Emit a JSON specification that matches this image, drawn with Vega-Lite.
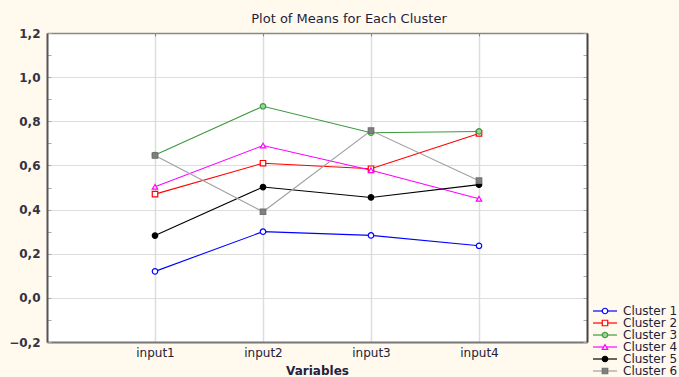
{
  "$schema": "https://vega.github.io/schema/vega-lite/v6.json",
  "width": 540,
  "height": 309,
  "autosize": {"type": "none"},
  "padding": {"left": 47, "top": 33, "right": 92, "bottom": 35},
  "background": "#fff9ee",
  "title": {"text": "Plot of Means for Each Cluster", "font": "DejaVu Sans", "fontSize": 13, "fontWeight": "normal", "color": "#1e1e3c", "anchor": "middle", "frame": "group", "offset": 1, "dx": 32},
  "config": {"view": {"stroke": null, "fill": "white"}, "font": "DejaVu Sans"},
  "data": {"values": [
    {"cluster": "Cluster 1", "variable": "input1", "value": 0.12},
    {"cluster": "Cluster 1", "variable": "input2", "value": 0.30},
    {"cluster": "Cluster 1", "variable": "input3", "value": 0.283},
    {"cluster": "Cluster 1", "variable": "input4", "value": 0.236},
    {"cluster": "Cluster 2", "variable": "input1", "value": 0.47},
    {"cluster": "Cluster 2", "variable": "input2", "value": 0.61},
    {"cluster": "Cluster 2", "variable": "input3", "value": 0.585},
    {"cluster": "Cluster 2", "variable": "input4", "value": 0.745},
    {"cluster": "Cluster 3", "variable": "input1", "value": 0.647},
    {"cluster": "Cluster 3", "variable": "input2", "value": 0.868},
    {"cluster": "Cluster 3", "variable": "input3", "value": 0.748},
    {"cluster": "Cluster 3", "variable": "input4", "value": 0.754},
    {"cluster": "Cluster 4", "variable": "input1", "value": 0.503},
    {"cluster": "Cluster 4", "variable": "input2", "value": 0.69},
    {"cluster": "Cluster 4", "variable": "input3", "value": 0.578},
    {"cluster": "Cluster 4", "variable": "input4", "value": 0.449},
    {"cluster": "Cluster 5", "variable": "input1", "value": 0.282},
    {"cluster": "Cluster 5", "variable": "input2", "value": 0.502},
    {"cluster": "Cluster 5", "variable": "input3", "value": 0.455},
    {"cluster": "Cluster 5", "variable": "input4", "value": 0.513},
    {"cluster": "Cluster 6", "variable": "input1", "value": 0.645},
    {"cluster": "Cluster 6", "variable": "input2", "value": 0.39},
    {"cluster": "Cluster 6", "variable": "input3", "value": 0.758},
    {"cluster": "Cluster 6", "variable": "input4", "value": 0.531}
  ]},
  "layer": [
    {
      "mark": {"type": "line", "strokeWidth": 1.1},
      "encoding": {
        "x": {"field": "variable", "type": "ordinal", "sort": null, "scale": {"type": "point", "padding": 1},
          "axis": {"orient": "bottom", "title": "Variables", "labelAngle": 0, "labelFont": "DejaVu Sans", "labelFontSize": 12, "labelColor": "#22223a", "labelPadding": 5, "ticks": false, "grid": true, "gridColor": "#dddddd", "gridWidth": 1.5, "domainColor": "#777777", "domainWidth": 2, "titleFont": "DejaVu Sans", "titleFontSize": 12, "titleFontWeight": "bold", "titleColor": "#22223a", "titlePadding": 7}},
        "y": {"field": "value", "type": "quantitative", "scale": {"domain": [-0.2, 1.2], "nice": false, "zero": false},
          "axis": {"orient": "left", "title": null, "values": [-0.2, -0.1, 0, 0.1, 0.2, 0.3, 0.4, 0.5, 0.6, 0.7, 0.8, 0.9, 1.0, 1.1, 1.2],
            "labelExpr": "abs(round(datum.value*10)) % 2 == 0 ? replace(format(datum.value, '.1f'), '.', ',') : ''",
            "labelFont": "DejaVu Sans", "labelFontSize": 12, "labelFontWeight": "bold", "labelColor": "#333344", "labelPadding": 11,
            "tickSize": -4, "tickColor": "#aaaaaa",
            "grid": true, "gridColor": "#dddddd", "gridWidth": 1.2,
            "gridOpacity": {"condition": {"test": "abs(round(datum.value*10)) % 2 == 0", "value": 1}, "value": 0},
            "domainColor": "#555555", "domainWidth": 2}},
        "color": {"field": "cluster", "type": "nominal",
          "scale": {"domain": ["Cluster 1", "Cluster 2", "Cluster 3", "Cluster 4", "Cluster 5", "Cluster 6"], "range": ["#0000ff", "#ff0000", "#3c9a3c", "#ff00ff", "#000000", "#a0a0a0"]},
          "legend": {"orient": "none", "legendX": 552, "legendY": 272, "title": null, "symbolType": "M-4,0H4", "symbolSize": 36, "symbolStrokeWidth": 1.2, "labelFont": "DejaVu Sans", "labelFontSize": 12, "labelColor": "#22223a", "labelOffset": 12, "rowPadding": 0, "labelLimit": 300}}
      }
    },
    {
      "mark": {"type": "point", "filled": true, "size": 30, "strokeWidth": 1.2, "opacity": 1},
      "encoding": {
        "x": {"field": "variable", "type": "ordinal", "sort": null, "scale": {"type": "point", "padding": 1},
          "axis": {"orient": "top", "title": null, "labels": false, "grid": false, "tickSize": -3, "tickColor": "#888888", "domainColor": "#888888", "domainWidth": 1.5}},
        "y": {"field": "value", "type": "quantitative", "scale": {"domain": [-0.2, 1.2], "nice": false, "zero": false},
          "axis": {"orient": "right", "title": null, "labels": false, "grid": false, "values": [-0.2, -0.1, 0, 0.1, 0.2, 0.3, 0.4, 0.5, 0.6, 0.7, 0.8, 0.9, 1.0, 1.1, 1.2], "tickSize": -4, "tickColor": "#aaaaaa", "domainColor": "#444444", "domainWidth": 2}},
        "stroke": {"field": "cluster", "type": "nominal",
          "scale": {"range": ["#0000ff", "#ff0000", "#3c9a3c", "#ff00ff", "#000000", "#707070"]},
          "legend": {"orient": "none", "legendX": 552, "legendY": 272, "title": null, "symbolSize": 30, "symbolStrokeWidth": 1.2, "labelFontSize": 12, "labelExpr": "''", "labelOffset": 12, "rowPadding": 0}},
        "fill": {"field": "cluster", "type": "nominal",
          "scale": {"range": ["#ffffff", "#ffffff", "#9fd09f", "#ffffff", "#000000", "#808080"]},
          "legend": {"orient": "none", "legendX": 552, "legendY": 272, "title": null, "symbolSize": 30, "symbolStrokeWidth": 1.2, "labelFontSize": 12, "labelExpr": "''", "labelOffset": 12, "rowPadding": 0}},
        "shape": {"field": "cluster", "type": "nominal",
          "scale": {"range": ["circle", "square", "circle", "triangle-up", "circle", "square"]},
          "legend": {"orient": "none", "legendX": 552, "legendY": 272, "title": null, "symbolSize": 30, "symbolStrokeWidth": 1.2, "labelFontSize": 12, "labelExpr": "''", "labelOffset": 12, "rowPadding": 0}}
      }
    }
  ],
  "resolve": {"axis": {"x": "independent", "y": "independent"}}
}
